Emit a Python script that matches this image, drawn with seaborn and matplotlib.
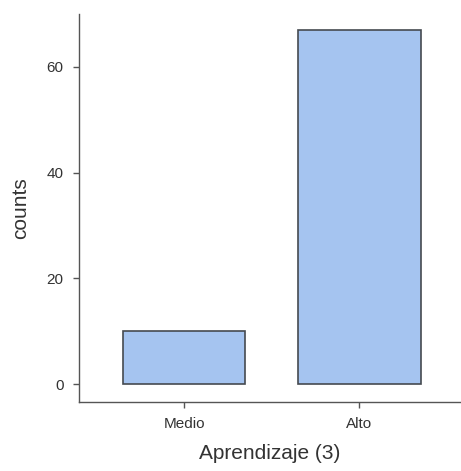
import pandas as pd
import seaborn as sns
import matplotlib
matplotlib.use("Agg")
import matplotlib.pyplot as plt

# data
levels = ["Medio", "Alto"]
counts = [10, 67]

df = pd.DataFrame({"Aprendizaje (3)": levels, "counts": counts})

sns.set_style("ticks")
plt.rcParams["font.family"] = ["Liberation Sans", "DejaVu Sans"]

fig = plt.figure(figsize=(4.61, 4.71), dpi=100)
ax = fig.add_axes([0.1714, 0.1465, 0.8286, 0.8238])

sns.barplot(data=df, x="Aprendizaje (3)", y="counts", order=levels,
            color="#a5c4f0", saturation=1, width=0.7,
            edgecolor="#454a50", linewidth=1.2, ax=ax)

ax.set_xlim(-0.6, 1.58)
ax.set_ylim(-3.4, 70)
ax.set_yticks([0, 20, 40, 60])
ax.set_xlabel("Aprendizaje (3)", fontsize=15, color="#333333", labelpad=9)
ax.set_ylabel("counts", fontsize=15, color="#333333", labelpad=12)
ax.tick_params(axis="both", labelsize=11, colors="#333333", length=4, width=1, pad=7)
ax.tick_params(axis="both", color="#555555")
sns.despine(ax=ax)
for s in ["left", "bottom"]:
    ax.spines[s].set_color("#555555")
    ax.spines[s].set_linewidth(1)

fig.savefig("out.png", dpi=100)
